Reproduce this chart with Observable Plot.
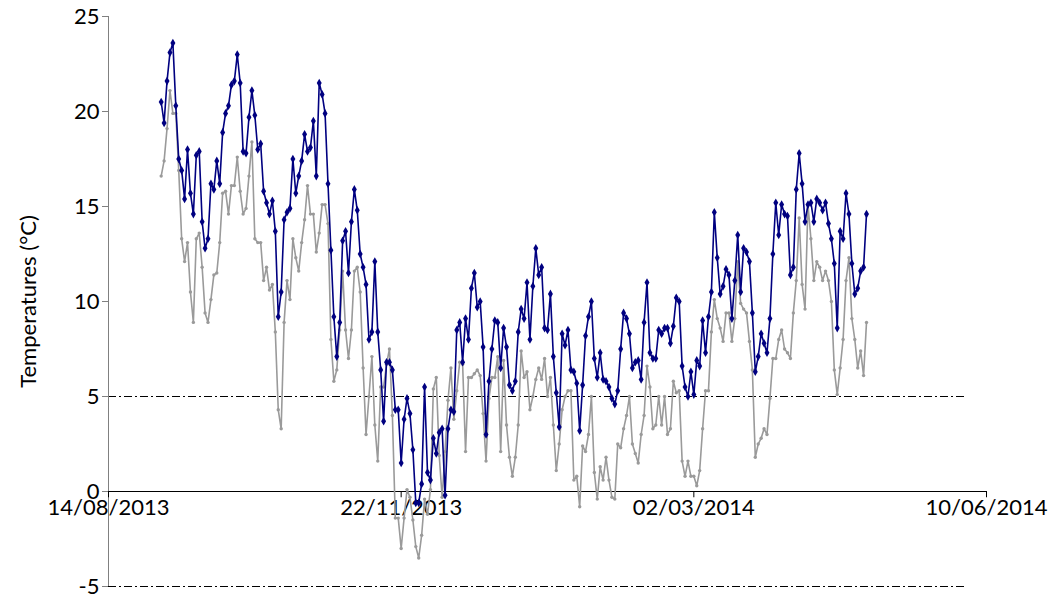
<!DOCTYPE html>
<html>
<head>
<meta charset="utf-8">
<script src="https://cdn.jsdelivr.net/npm/d3@7"></script>
<script src="https://cdn.jsdelivr.net/npm/@observablehq/plot@0.6"></script>
<style>
  html, body { margin: 0; padding: 0; background: #fff; }
  #chart svg { display: block; }
</style>
</head>
<body>
<div id="chart"></div>
<script>
// ---- data (daily values) ----
const firstDay = "2013-09-01";

const maxTemps = [
  20.5, 19.4, 21.6, 23.1, 23.6, 20.3, 17.5, 16.9, 15.4, 18.0, 15.7, 14.6, 17.7, 17.9, 14.2, 12.8, 13.3, 16.2, 15.9, 17.4, 16.2, 18.9, 19.9, 20.3, 21.4, 21.6, 23.0, 21.5,
  17.9, 17.8, 19.7, 21.1, 19.8, 18.0, 18.3, 15.8, 15.2, 14.6, 15.3, 13.7, 9.2, 10.5, 14.3, 14.7, 14.9, 17.5, 15.7, 16.6, 17.4, 18.8, 17.9, 18.1, 19.5, 16.6, 21.5, 20.9, 19.9,
  16.2, 12.7, 9.2, 7.1, 8.9, 13.2, 13.7, 11.5, 14.2, 15.9, 14.8, 12.5, 11.8, 10.9, 8.0, 8.4, 12.1, 8.4, 6.4, 3.7, 6.8, 6.8, 6.4, 4.3, 4.3, 1.5, 3.8, 4.9, 4.1,
  2.2, -0.6, -0.6, 0.4, 5.5, 1.0, 0.6, 2.8, 2.0, 3.1, 3.3, -0.2, 3.3, 4.3, 4.2, 8.5, 8.9, 6.8, 9.1, 8.0, 10.7, 11.5, 9.7, 10.0, 7.6, 3.0, 5.8, 7.5, 9.0,
  8.9, 6.5, 8.6, 7.6, 5.6, 5.3, 5.8, 8.4, 9.6, 9.1, 11.0, 8.0, 10.8, 12.8, 11.4, 11.8, 8.6, 8.5, 10.4, 7.1, 5.2, 3.4, 8.3, 7.7, 8.5, 6.4, 6.3, 5.7, 3.2,
  5.6, 8.2, 9.2, 10.0, 7.0, 6.0, 7.3, 5.9, 5.8, 5.5, 4.9, 4.6, 5.3, 7.5, 9.4, 9.1, 8.3, 6.5, 6.8, 6.9, 5.9, 8.9, 11.0, 7.3, 7.0, 7.0, 8.5, 8.3, 8.6,
  8.6, 7.8, 8.7, 10.2, 10.0, 6.6, 5.5, 5.0, 6.3, 5.1, 6.9, 6.6, 9.0, 7.3, 9.2, 10.5, 14.7, 12.3, 10.4, 10.8, 11.7, 11.4, 9.1, 11.1, 13.5, 10.5, 12.8, 12.6, 12.1,
  9.4, 6.3, 7.1, 8.3, 7.8, 7.3, 9.1, 12.5, 15.2, 13.5, 15.1, 14.6, 14.5, 11.4, 11.8, 15.9, 17.8, 16.2, 14.2, 15.1, 15.2, 14.2, 15.4, 15.2, 14.8, 15.2, 14.1, 13.3, 12.0,
  8.6, 13.7, 13.3, 15.7, 14.6, 12.0, 10.4, 10.7, 11.6, 11.8, 14.6
];

const minTemps = [
  16.6, 17.4, 19.1, 21.1, 19.9, 19.9, 16.9, 13.3, 12.1, 13.1, 10.5, 8.9, 13.3, 13.6, 11.8, 9.4, 8.9, 10.1, 11.4, 11.5, 13.1, 15.7, 15.8, 14.6, 16.1, 16.1, 17.6, 15.8,
  14.6, 14.9, 16.6, 18.4, 13.3, 13.1, 13.1, 11.1, 11.8, 10.6, 10.9, 8.4, 4.3, 3.3, 8.9, 11.1, 10.1, 13.3, 12.3, 11.6, 13.1, 14.3, 16.1, 14.6, 14.6, 12.6, 13.6, 15.1, 15.1,
  14.1, 8.0, 5.8, 6.4, 8.5, 11.6, 8.5, 7.0, 8.5, 11.6, 11.8, 10.5, 6.5, 3.0, 5.0, 7.1, 3.5, 1.6, 5.5, 5.5, 6.7, 7.5, 4.0, -1.4, -1.4, -3.0, -1.4, 0.1, -0.3,
  -1.5, -2.9, -3.5, -2.3, -0.4, -1.2, 0.1, 5.4, 6.0, 1.9, -0.3, 2.1, 4.8, 6.5, 3.8, 5.3, 6.8, 6.7, 2.1, 6.0, 6.0, 6.2, 6.4, 6.1, 4.1, 1.6, 4.9, 6.0, 6.0,
  7.1, 2.1, 6.9, 3.5, 1.8, 0.8, 1.8, 3.5, 7.4, 6.0, 6.3, 4.3, 5.0, 5.9, 6.5, 5.9, 7.0, 5.0, 6.0, 3.5, 1.1, 2.5, 4.3, 5.0, 5.3, 5.3, 0.6, 0.8, -0.8,
  2.4, 2.1, 3.0, 5.0, 1.0, -0.4, 1.3, 0.6, 1.8, 0.6, -0.3, -0.4, 2.5, 2.3, 3.3, 4.0, 5.0, 2.5, 2.0, 1.5, 3.0, 4.0, 6.6, 5.5, 3.3, 3.5, 5.0, 3.5, 5.0,
  3.0, 3.3, 5.8, 5.2, 5.3, 1.6, 0.8, 1.6, 0.8, 0.8, 0.3, 1.1, 3.3, 5.3, 5.3, 8.4, 10.1, 9.1, 8.6, 7.9, 9.4, 9.4, 7.9, 9.1, 12.1, 9.9, 9.6, 9.4, 7.9,
  6.4, 1.8, 2.5, 2.8, 3.3, 3.0, 4.9, 7.0, 7.0, 8.0, 8.5, 7.5, 7.3, 7.0, 9.4, 11.1, 14.4, 10.9, 9.6, 15.1, 13.3, 11.1, 12.1, 11.8, 11.1, 11.6, 11.1, 10.0, 6.4,
  5.1, 6.5, 8.0, 11.1, 12.3, 9.1, 8.0, 6.5, 7.4, 6.1, 8.9
];

const yTicks = [-5, 0, 5, 10, 15, 20, 25];
const xTickDates = ["2013-08-14", "2013-11-22", "2014-03-02", "2014-06-10"];
const xTickLabels = ["14/08/2013", "22/11/2013", "02/03/2014", "10/06/2014"];
const thresholdLevels = [5, -5];
const thresholdSpan = ["2013-08-14", "2014-06-03"];
const yLabel = "Temperatures (°C)";

// ---- build tables ----
const parse = s => new Date(s + "T00:00:00Z");
const day0 = parse(firstDay);
const dayAt = i => new Date(day0.getTime() + i * 86400000);
const maxData = maxTemps.map((v, i) => ({date: dayAt(i), value: v}));
const minData = minTemps.map((v, i) => ({date: dayAt(i), value: v}));
const ticks = xTickDates.map((d, i) => ({date: parse(d), label: xTickLabels[i]}));
const spanStart = parse(thresholdSpan[0]);
const spanEnd = parse(thresholdSpan[1]);

const FONT = "Lato, 'Open Sans', sans-serif";
const FS = 22;

const chart = Plot.plot({
  width: 1049,
  height: 601,
  marginLeft: 108,
  marginRight: 63,
  marginTop: 16,
  marginBottom: 15,
  style: {fontFamily: FONT, fontSize: FS + "px", color: "#000", background: "#fff"},
  x: {type: "utc", axis: null, domain: [parse(xTickDates[0]), parse(xTickDates[xTickDates.length - 1])]},
  y: {domain: [-5, 25]},
  marks: [
    // threshold dash-dot lines
    Plot.ruleY(thresholdLevels, {y: d => d, x1: () => spanStart, x2: () => spanEnd,
      stroke: "#000", strokeWidth: 1, strokeDasharray: "8,3,2,3"}),
    // y axis
    Plot.axisY({ticks: yTicks, tickSize: 6, tickPadding: 3, tickFormat: d => String(d),
      label: null, stroke: "#808080", fill: "#000", fontSize: FS}),
    Plot.ruleX([spanStart], {stroke: "#808080", strokeWidth: 1}),
    Plot.text([yLabel], {frameAnchor: "left", dx: -80, rotate: -90, textAnchor: "middle",
      fontSize: FS}),
    // x axis at 0
    Plot.ruleY([0], {stroke: "#000", strokeWidth: 1}),
    Plot.ruleX(ticks, {x: "date", y1: 0, y2: -0.33, stroke: "#000", strokeWidth: 1}),
    Plot.text(ticks, {x: "date", y: 0, text: "label", dy: 16, lineAnchor: "middle",
      textAnchor: "middle", fontSize: FS}),
    // series
    Plot.line(minData, {x: "date", y: "value", stroke: "#9a9a9a", strokeWidth: 1.6}),
    Plot.dot(minData, {x: "date", y: "value", r: 1.7, fill: "#9a9a9a", stroke: "none"}),
    Plot.line(maxData, {x: "date", y: "value", stroke: "#000080", strokeWidth: 1.6}),
    Plot.dot(maxData, {x: "date", y: "value", symbol: "diamond", r: 2.6, fill: "#000080", stroke: "none"})
  ]
});
document.getElementById("chart").appendChild(chart);
</script>
</body>
</html>
